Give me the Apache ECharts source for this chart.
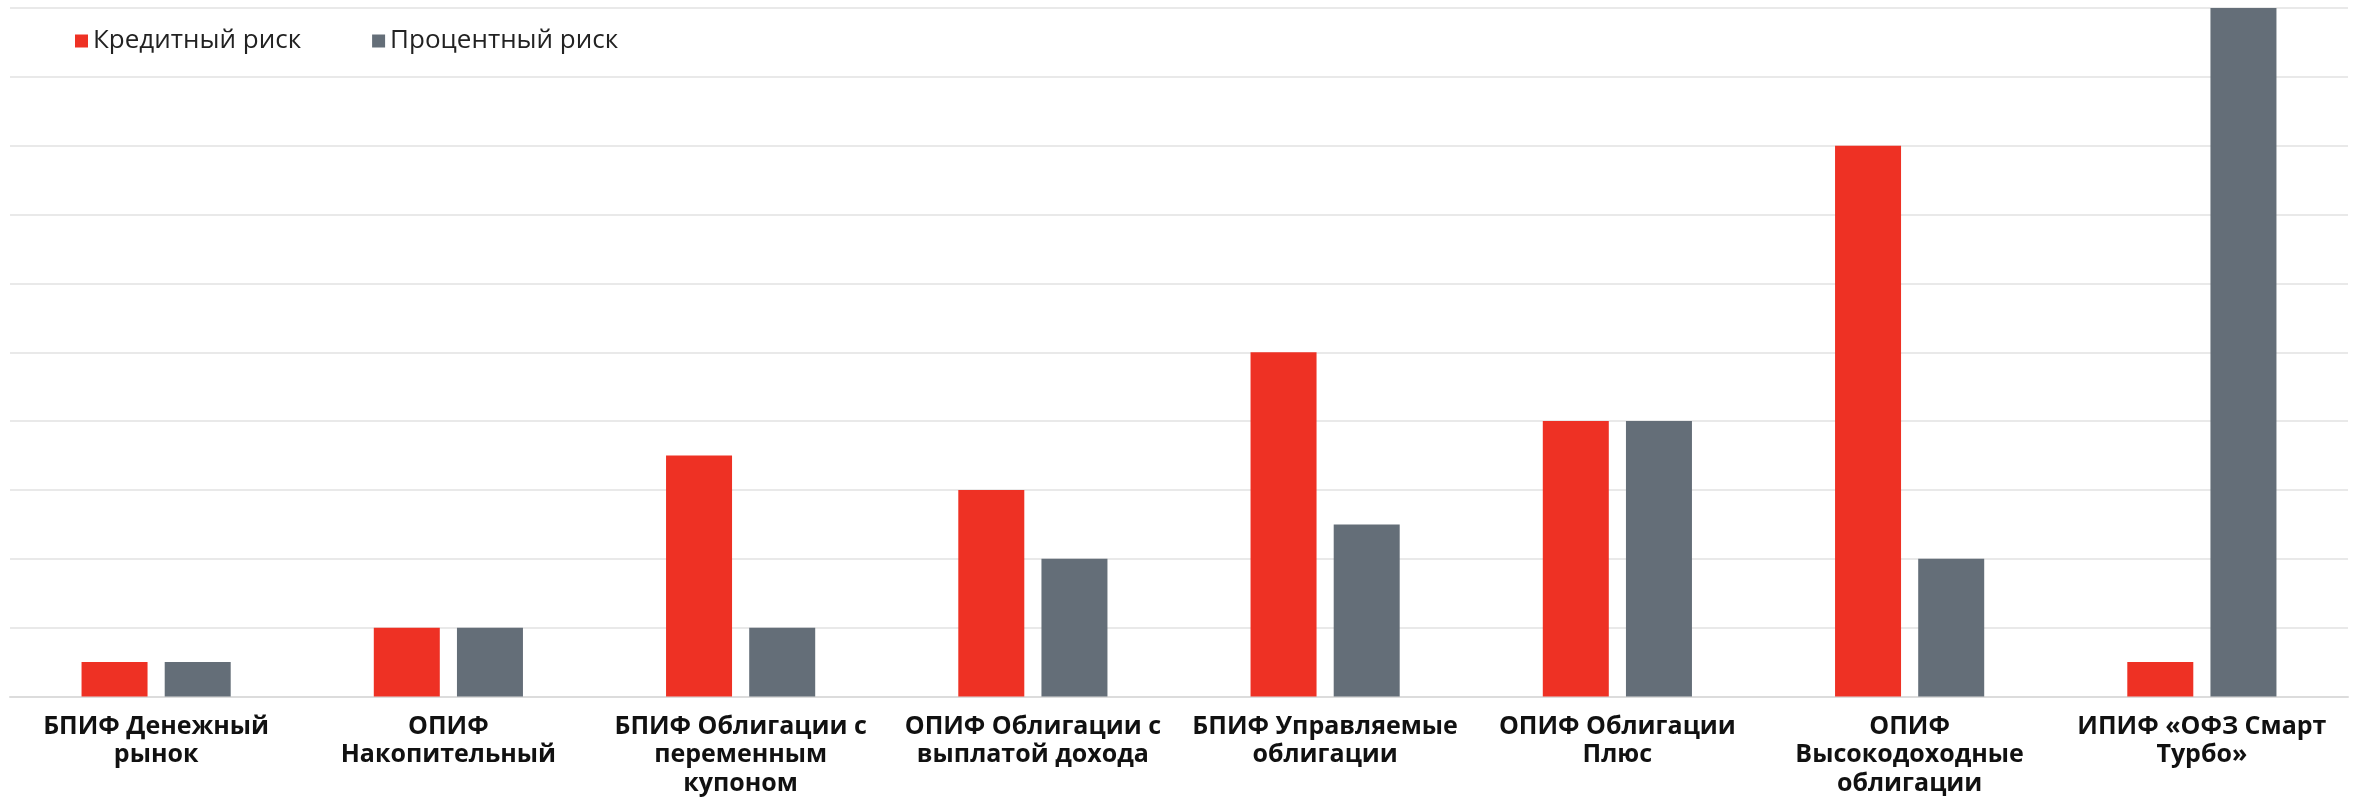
<!DOCTYPE html>
<html>
<head>
<meta charset="utf-8">
<script src="https://cdn.jsdelivr.net/npm/echarts@6/dist/echarts.min.js"></script>
<style>
html,body{margin:0;padding:0;background:#fff;}
#c{width:2359px;height:798px;}
</style>
</head>
<body>
<div id="c"></div>
<script>
var categories = [
  'БПИФ Денежный\nрынок',
  'ОПИФ\nНакопительный',
  'БПИФ Облигации с\nпеременным\nкупоном',
  'ОПИФ Облигации с\nвыплатой дохода',
  'БПИФ Управляемые\nоблигации',
  'ОПИФ Облигации\nПлюс',
  'ОПИФ\nВысокодоходные\nоблигации',
  'ИПИФ «ОФЗ Смарт\nТурбо»'
];
var seriesNames = ['Кредитный риск', 'Процентный риск'];
var creditRisk = [0.5, 1, 3.5, 3, 5, 4, 8, 0.5];
var rateRisk = [0.5, 1, 1, 2, 2.5, 4, 2, 10];

var chart = echarts.init(document.getElementById('c'));
chart.setOption({
  animation: false,
  backgroundColor: '#ffffff',
  textStyle: { fontFamily: 'Open Sans' },
  legend: {
    left: 70, top: 23,
    icon: 'rect', itemWidth: 13, itemHeight: 13, itemGap: 71,
    textStyle: { fontSize: 26, color: '#222', fontFamily: 'Open Sans', padding: [0,0,0,0] },
    data: seriesNames
  },
  grid: { left: 10, right: 11, top: 8, bottom: 101, containLabel: false },
  xAxis: {
    type: 'category',
    data: categories,
    axisTick: { show: false },
    axisLine: { lineStyle: { color: '#dcdcdc', width: 2 } },
    axisLabel: {
      interval: 0, margin: 16, fontSize: 25, fontWeight: 'bold', color: '#111',
      lineHeight: 28.5, fontFamily: 'Open Sans', align: 'center'
    }
  },
  yAxis: {
    type: 'value', min: 0, max: 10, interval: 1,
    axisLabel: { show: false },
    axisLine: { show: false }, axisTick: { show: false },
    splitLine: { lineStyle: { color: '#e2e2e2', width: 1.5 } }
  },
  series: [
    { name: seriesNames[0], type: 'bar', data: creditRisk, barWidth: 66, barGap: '26%',
      itemStyle: { color: '#EE3124' } },
    { name: seriesNames[1], type: 'bar', data: rateRisk, barWidth: 66,
      itemStyle: { color: '#646E78' } }
  ]
});
</script>
</body>
</html>
